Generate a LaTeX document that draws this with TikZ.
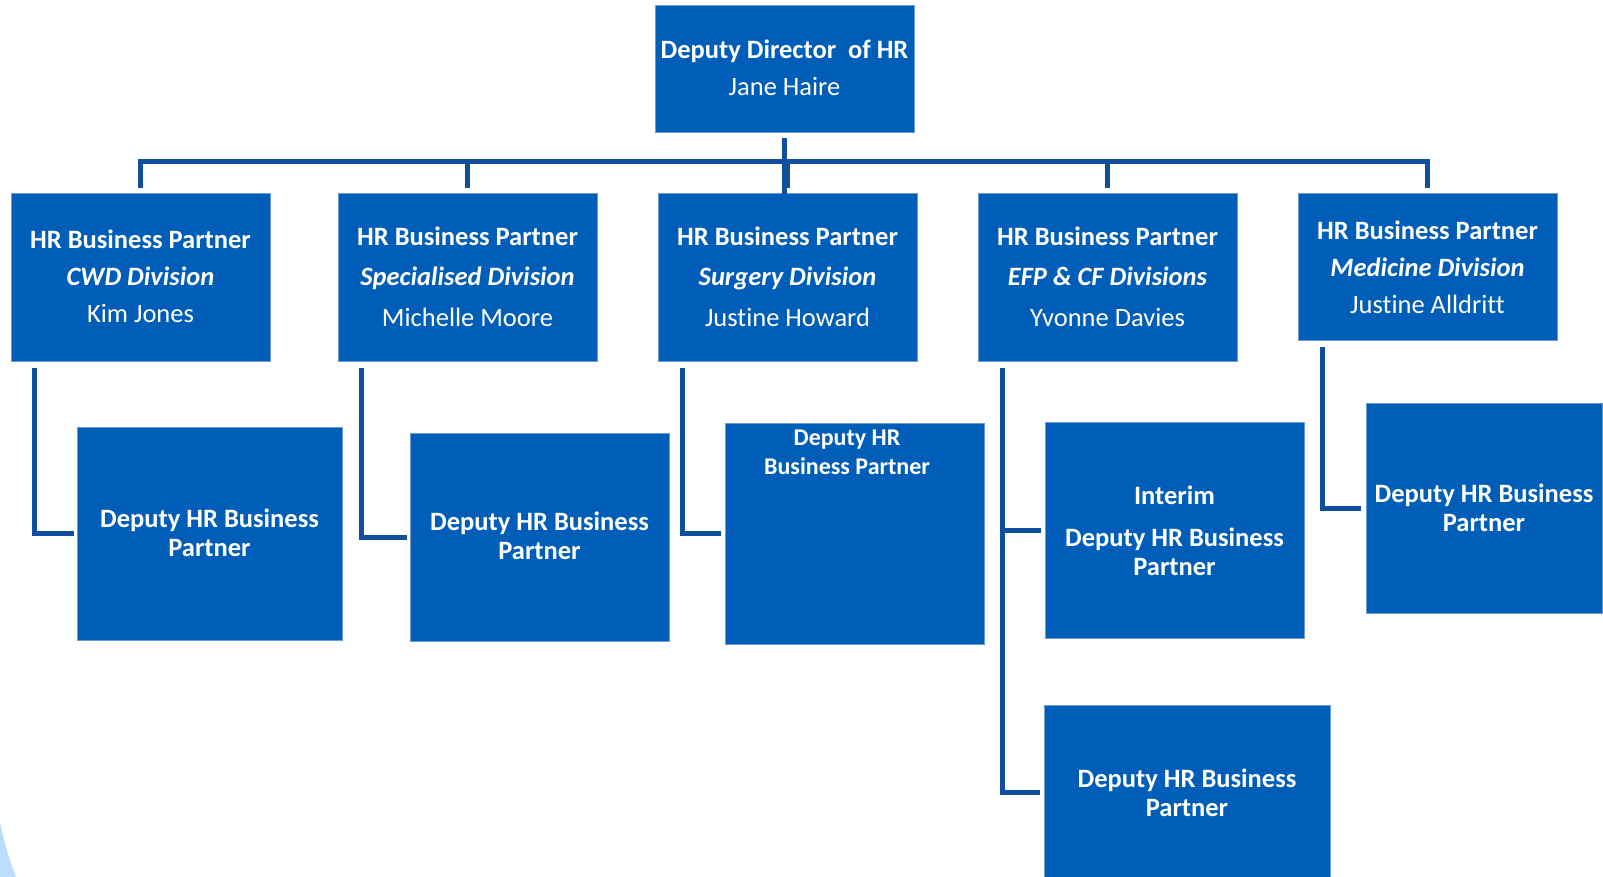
\documentclass[tikz,border=0pt]{standalone}
\usepackage{fontspec}
\setmainfont[Ligatures=NoCommon]{Carlito}
\definecolor{boxblue}{RGB}{0,94,184}
\definecolor{linkblue}{RGB}{16,78,158}
\definecolor{edgeblue}{RGB}{110,155,215}
\definecolor{paleblue}{RGB}{187,221,255}
\begin{document}
\begin{tikzpicture}[x=1pt,y=-1pt,
  box/.style={rectangle, fill=boxblue, draw=edgeblue, line width=0.8pt, inner sep=0pt, text=white, align=center},
  hrbp/.style={box, minimum width=259pt, minimum height=168pt},
  lbl/.style={text=white, align=center, inner sep=0pt},
  conn/.style={draw=linkblue, line width=5pt, line join=miter},
  big/.style={font=\fontsize{26.5}{37}\selectfont},
  wide/.style={font=\fontsize{26.5}{40.5}\selectfont},
  dep/.style={font=\fontsize{26.5}{29}\selectfont\bfseries},
  smalldep/.style={font=\fontsize{24}{29}\selectfont\bfseries}]
\useasboundingbox (0,0) rectangle (1603,877);
\clip (0,0) rectangle (1603,877);
\fill[paleblue] (0,822) .. controls (5,845) and (10,862) .. (16,877) -- (0,877) -- cycle;

% top
\node[box, minimum width=259pt, minimum height=127pt] (top) at (784.5,68.5) {};
\node[lbl, big] (ttop) at (784.5,68) {\textbf{Deputy Director\ \ of HR}\\Jane Haire};

% HR business partners
\node[hrbp] (cwd) at (140.5,277) {};
\node[lbl, big] (tcwd) at (140.5,276) {\textbf{HR Business Partner}\\\textbf{\itshape CWD Division}\\Kim Jones};
\node[hrbp] (spec) at (467.5,277) {};
\node[lbl, wide] (tspec) at (467.5,276.5) {\textbf{HR Business Partner}\\\textbf{\itshape Specialised Division}\\Michelle Moore};
\node[hrbp] (surg) at (787.5,277) {};
\node[lbl, wide] (tsurg) at (787.5,276.5) {\textbf{HR Business Partner}\\\textbf{\itshape Surgery Division}\\Justine Howard};
\node[hrbp] (efp) at (1107.5,277) {};
\node[lbl, wide] (tefp) at (1107.5,276.5) {\textbf{HR Business Partner}\\\textbf{\itshape EFP \& CF Divisions}\\Yvonne Davies};
\node[box, minimum width=259pt, minimum height=147pt] (med) at (1427.5,266.5) {};
\node[lbl, big] (tmed) at (1427.5,267) {\textbf{HR Business Partner}\\\textbf{\itshape Medicine Division}\\Justine Alldritt};

% deputies
\node[box, minimum width=265pt, minimum height=213pt] (dcwd) at (209.5,533.5) {};
\node[lbl, dep] (tdcwd) at (209.5,533) {Deputy HR Business\\Partner};
\node[box, minimum width=259pt, minimum height=208pt] (dspec) at (539.5,537) {};
\node[lbl, dep] (tdspec) at (539.5,536) {Deputy HR Business\\Partner};
\node[box, minimum width=259pt, minimum height=221pt] (dsurg) at (854.5,533.5) {};
\node[lbl, smalldep] (tdsurg) at (847,452.5) {Deputy HR\\Business Partner};
\node[box, minimum width=259pt, minimum height=216pt] (dint) at (1174.5,530) {};
\node[lbl, dep] (tdint) at (1174.5,531) {Interim\\[13pt]Deputy HR Business\\Partner};
\node[box, minimum width=286pt, minimum height=176pt] (dbot) at (1187,793) {};
\node[lbl, dep] (tdbot) at (1187,792.5) {Deputy HR Business\\Partner};
\node[box, minimum width=236pt, minimum height=210pt] (dmed) at (1484,508) {};
\node[lbl, dep] (tdmed) at (1484,507.5) {Deputy HR Business\\Partner};

% bus
\draw[conn] ([yshift=-6pt]top.south) -- ([yshift=-6pt]top.south |- 0,188);
\draw[conn] ([yshift=5pt]cwd.north) -- ([yshift=31pt]cwd.north) -- ([yshift=31pt]med.north) -- ([yshift=5pt]med.north);
\draw[conn] ([yshift=31pt]spec.north) -- ([yshift=5pt]spec.north);
\draw[conn] ([yshift=31pt]surg.north) -- ([yshift=5pt]surg.north);
\draw[conn] ([yshift=31pt]efp.north) -- ([yshift=5pt]efp.north);

% elbows
\draw[conn] ([xshift=24pt,yshift=-7pt]cwd.south west) |- ([xshift=-3pt]dcwd.west);
\draw[conn] ([xshift=24pt,yshift=-7pt]spec.south west) |- ([xshift=-3pt]dspec.west);
\draw[conn] ([xshift=25pt,yshift=-7pt]surg.south west) |- ([xshift=-4pt]dsurg.west);
\coordinate (efpd) at ([xshift=25pt,yshift=-7pt]efp.south west);
\draw[conn] (efpd) |- ([xshift=-4pt,yshift=1pt]dbot.west);
\draw[conn] (efpd |- dint.west) -- ([xshift=-4pt]dint.west);
\draw[conn] ([xshift=25pt,yshift=-7pt]med.south west) |- ([xshift=-5pt]dmed.west);
\end{tikzpicture}
\end{document}
